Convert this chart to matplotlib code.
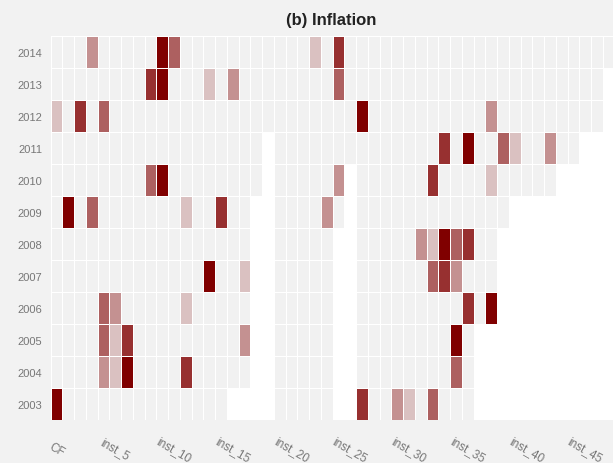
import numpy as np
import matplotlib
matplotlib.use("Agg")
import matplotlib.pyplot as plt
from matplotlib.colors import LinearSegmentedColormap

N = np.nan

years = [2003, 2004, 2005, 2006, 2007, 2008, 2009, 2010, 2011, 2012, 2013, 2014]
n_cols = 48
col_labels = ["CF"] + [f"inst_{i}" for i in range(1, n_cols)]

# intensity levels 0..5 per (year, column); NaN = not available
y2014 = [0,0,0,2,0,0,0,0,0,5, 3,0,0,0,0,0,0,0,0,0, 0,0,1,0,4,0,0,0,0,0, 0,0,0,0,0,0,0,0,0,0, 0,0,0,0,0,0,0,0]
y2013 = [0,0,0,0,0,0,0,0,4,5, 0,0,0,1,0,2,0,0,0,0, 0,0,0,0,3,0,0,0,0,0, 0,0,0,0,0,0,0,0,0,0, 0,0,0,0,0,0,0]
y2012 = [1,0,4,0,3,0,0,0,0,0, 0,0,0,0,0,0,0,0,0,0, 0,0,0,0,0,0,5,0,0,0, 0,0,0,0,0,0,0,2,0,0, 0,0,0,0,0,0,0]
y2011 = [0,0,0,0,0,0,0,0,0,0, 0,0,0,0,0,0,0,0,N,0, 0,0,0,0,0,0,0,0,0,0, 0,0,0,4,0,5,0,0,3,1, 0,0,2,0,0]
y2010 = [0,0,0,0,0,0,0,0,3,5, 0,0,0,0,0,0,0,0,N,0, 0,0,0,0,2,N,0,0,0,0, 0,0,4,0,0,0,0,1,0,0, 0,0,0]
y2009 = [0,5,0,3,0,0,0,0,0,0, 0,1,0,0,4,0,0,N,N,0, 0,0,0,2,0,N,0,0,0,0, 0,0,0,0,0,0,0,0,0]
y2008 = [0,0,0,0,0,0,0,0,0,0, 0,0,0,0,0,0,0,N,N,0, 0,0,0,0,N,N,0,0,0,0, 0,2,1,5,3,4,0,0]
y2007 = [0,0,0,0,0,0,0,0,0,0, 0,0,0,5,0,0,1,N,N,0, 0,0,0,0,N,N,0,0,0,0, 0,0,3,4,2,0,0,0]
y2006 = [0,0,0,0,3,2,0,0,0,0, 0,1,0,0,0,0,0,N,N,0, 0,0,0,0,N,N,0,0,0,0, 0,0,0,0,0,4,0,5]
y2005 = [0,0,0,0,3,1,4,0,0,0, 0,0,0,0,0,0,2,N,N,0, 0,0,0,0,N,N,0,0,0,0, 0,0,0,0,5,0]
y2004 = [0,0,0,0,2,1,5,0,0,0, 0,4,0,0,0,0,0,N,N,0, 0,0,0,0,N,N,0,0,0,0, 0,0,0,0,3,0]
y2003 = [5,0,0,0,0,0,0,0,0,0, 0,0,0,0,0,N,N,N,N,0, 0,0,0,0,N,N,4,0,0,2, 1,0,3,0,0,0]

rows = [y2003, y2004, y2005, y2006, y2007, y2008, y2009, y2010, y2011, y2012, y2013, y2014]

data = np.full((len(rows), n_cols), np.nan)
for i, r in enumerate(rows):
    data[i, :len(r)] = r
masked = np.ma.masked_invalid(data)

plt.rcParams['font.family'] = ['Liberation Sans', 'DejaVu Sans']

fig = plt.figure(figsize=(6.13, 4.64), dpi=100, facecolor="#f2f2f2")
W, H = 613, 464
left_px, right_px, top_px, bot_px = 50.5, 50.5 + 48 * 11.75, 37, 421
ax = fig.add_axes([left_px / W, 1 - bot_px / H, (right_px - left_px) / W, (bot_px - top_px) / H])
ax.set_facecolor("white")

cmap = LinearSegmentedColormap.from_list("infl", ["#f1f1f1", "#800000"])
ax.pcolormesh(np.arange(n_cols + 1), np.arange(len(years) + 1), masked,
              cmap=cmap, vmin=0, vmax=5, edgecolors="white", linewidth=0.7)

ax.set_xlim(0, n_cols)
ax.set_ylim(0, len(years))
for s in ax.spines.values():
    s.set_visible(False)

ax.set_yticks(np.arange(len(years)) + 0.5)
ax.set_yticklabels([str(y) for y in years])
xt = list(range(0, n_cols, 5))
ax.set_xticks(np.array(xt) + 0.5)
ax.set_xticklabels([col_labels[i] for i in xt], rotation=-30, ha="center", va="center")
ax.tick_params(axis="y", length=0, pad=6, labelsize=8, labelcolor="#777777")
ax.tick_params(axis="x", length=0, pad=21, labelsize=8.5, labelcolor="#777777")

fig.text(331 / W, 1 - 21 / H, "(b) Inflation", ha="center", va="center",
         fontsize=12, fontweight="bold", color="#222222")

fig.savefig("out.png", dpi=100, facecolor=fig.get_facecolor())
